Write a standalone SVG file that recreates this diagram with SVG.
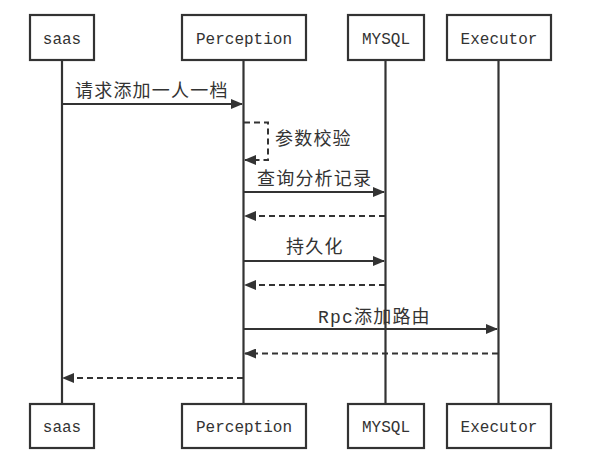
<svg xmlns="http://www.w3.org/2000/svg" width="612" height="471" viewBox="0 0 612 471">
<style>
.box{fill:#fff;stroke:#333;stroke-width:2.2}
.life{stroke:#333;stroke-width:2.2}
.lbl{font-family:"Liberation Mono",monospace;font-size:16px;fill:#333;text-anchor:middle}
.msg{stroke:#333;stroke-width:2;fill:none}
.ret{stroke:#333;stroke-width:2;fill:none;stroke-dasharray:6 4}
.mt{font-family:"Liberation Mono","Noto Sans CJK SC",monospace;font-size:18px;fill:#333;letter-spacing:1.2px}
</style>
<defs>
<marker id="ah" markerWidth="12" markerHeight="10" refX="11" refY="5" orient="auto" markerUnits="userSpaceOnUse">
<path d="M0,0 L12,5 L0,10 Z" fill="#333"/>
</marker>
</defs>
<rect width="612" height="471" fill="#fff"/>
<g id="lifelines">
<line class="life" x1="62" y1="60" x2="62" y2="404"/>
<line class="life" x1="243.5" y1="60" x2="243.5" y2="404"/>
<line class="life" x1="385.5" y1="60" x2="385.5" y2="404"/>
<line class="life" x1="498.5" y1="60" x2="498.5" y2="404"/>
</g>
<g id="saas-top"><rect class="box" x="30" y="15" width="64" height="45"/><text class="lbl" x="62" y="44">saas</text></g>
<g id="perception-top"><rect class="box" x="182" y="15" width="124" height="45"/><text class="lbl" x="244" y="44">Perception</text></g>
<g id="mysql-top"><rect class="box" x="348" y="15" width="76" height="45"/><text class="lbl" x="386" y="44">MYSQL</text></g>
<g id="executor-top"><rect class="box" x="447" y="15" width="104" height="45"/><text class="lbl" x="499" y="44">Executor</text></g>
<g id="saas-bottom"><rect class="box" x="30" y="404" width="64" height="44"/><text class="lbl" x="62" y="432">saas</text></g>
<g id="perception-bottom"><rect class="box" x="182" y="404" width="124" height="44"/><text class="lbl" x="244" y="432">Perception</text></g>
<g id="mysql-bottom"><rect class="box" x="348" y="404" width="76" height="44"/><text class="lbl" x="386" y="432">MYSQL</text></g>
<g id="executor-bottom"><rect class="box" x="447" y="404" width="104" height="44"/><text class="lbl" x="499" y="432">Executor</text></g>
<g id="connectors">
<line class="msg" x1="62" y1="104" x2="242" y2="104" marker-end="url(#ah)"/>
<text class="mt" x="75" y="97">请求添加一人一档</text>
<path class="ret" d="M244,122.5 H268 V160 H245" marker-end="url(#ah)"/>
<text class="mt" x="275" y="145">参数校验</text>
<line class="msg" x1="244" y1="192" x2="384" y2="192" marker-end="url(#ah)"/>
<text class="mt" x="257" y="185">查询分析记录</text>
<line class="ret" x1="385" y1="216" x2="245" y2="216" marker-end="url(#ah)"/>
<line class="msg" x1="244" y1="261" x2="384" y2="261" marker-end="url(#ah)"/>
<text class="mt" x="286" y="253">持久化</text>
<line class="ret" x1="385" y1="285" x2="245" y2="285" marker-end="url(#ah)"/>
<line class="msg" x1="244" y1="329" x2="497" y2="329" marker-end="url(#ah)"/>
<text class="mt" x="318" y="323" letter-spacing="0">Rpc<tspan letter-spacing="1.2px">添加路由</tspan></text>
<line class="ret" x1="498" y1="353.5" x2="245" y2="353.5" marker-end="url(#ah)"/>
<line class="ret" x1="243" y1="378" x2="63" y2="378" marker-end="url(#ah)"/>
</g>
</svg>
